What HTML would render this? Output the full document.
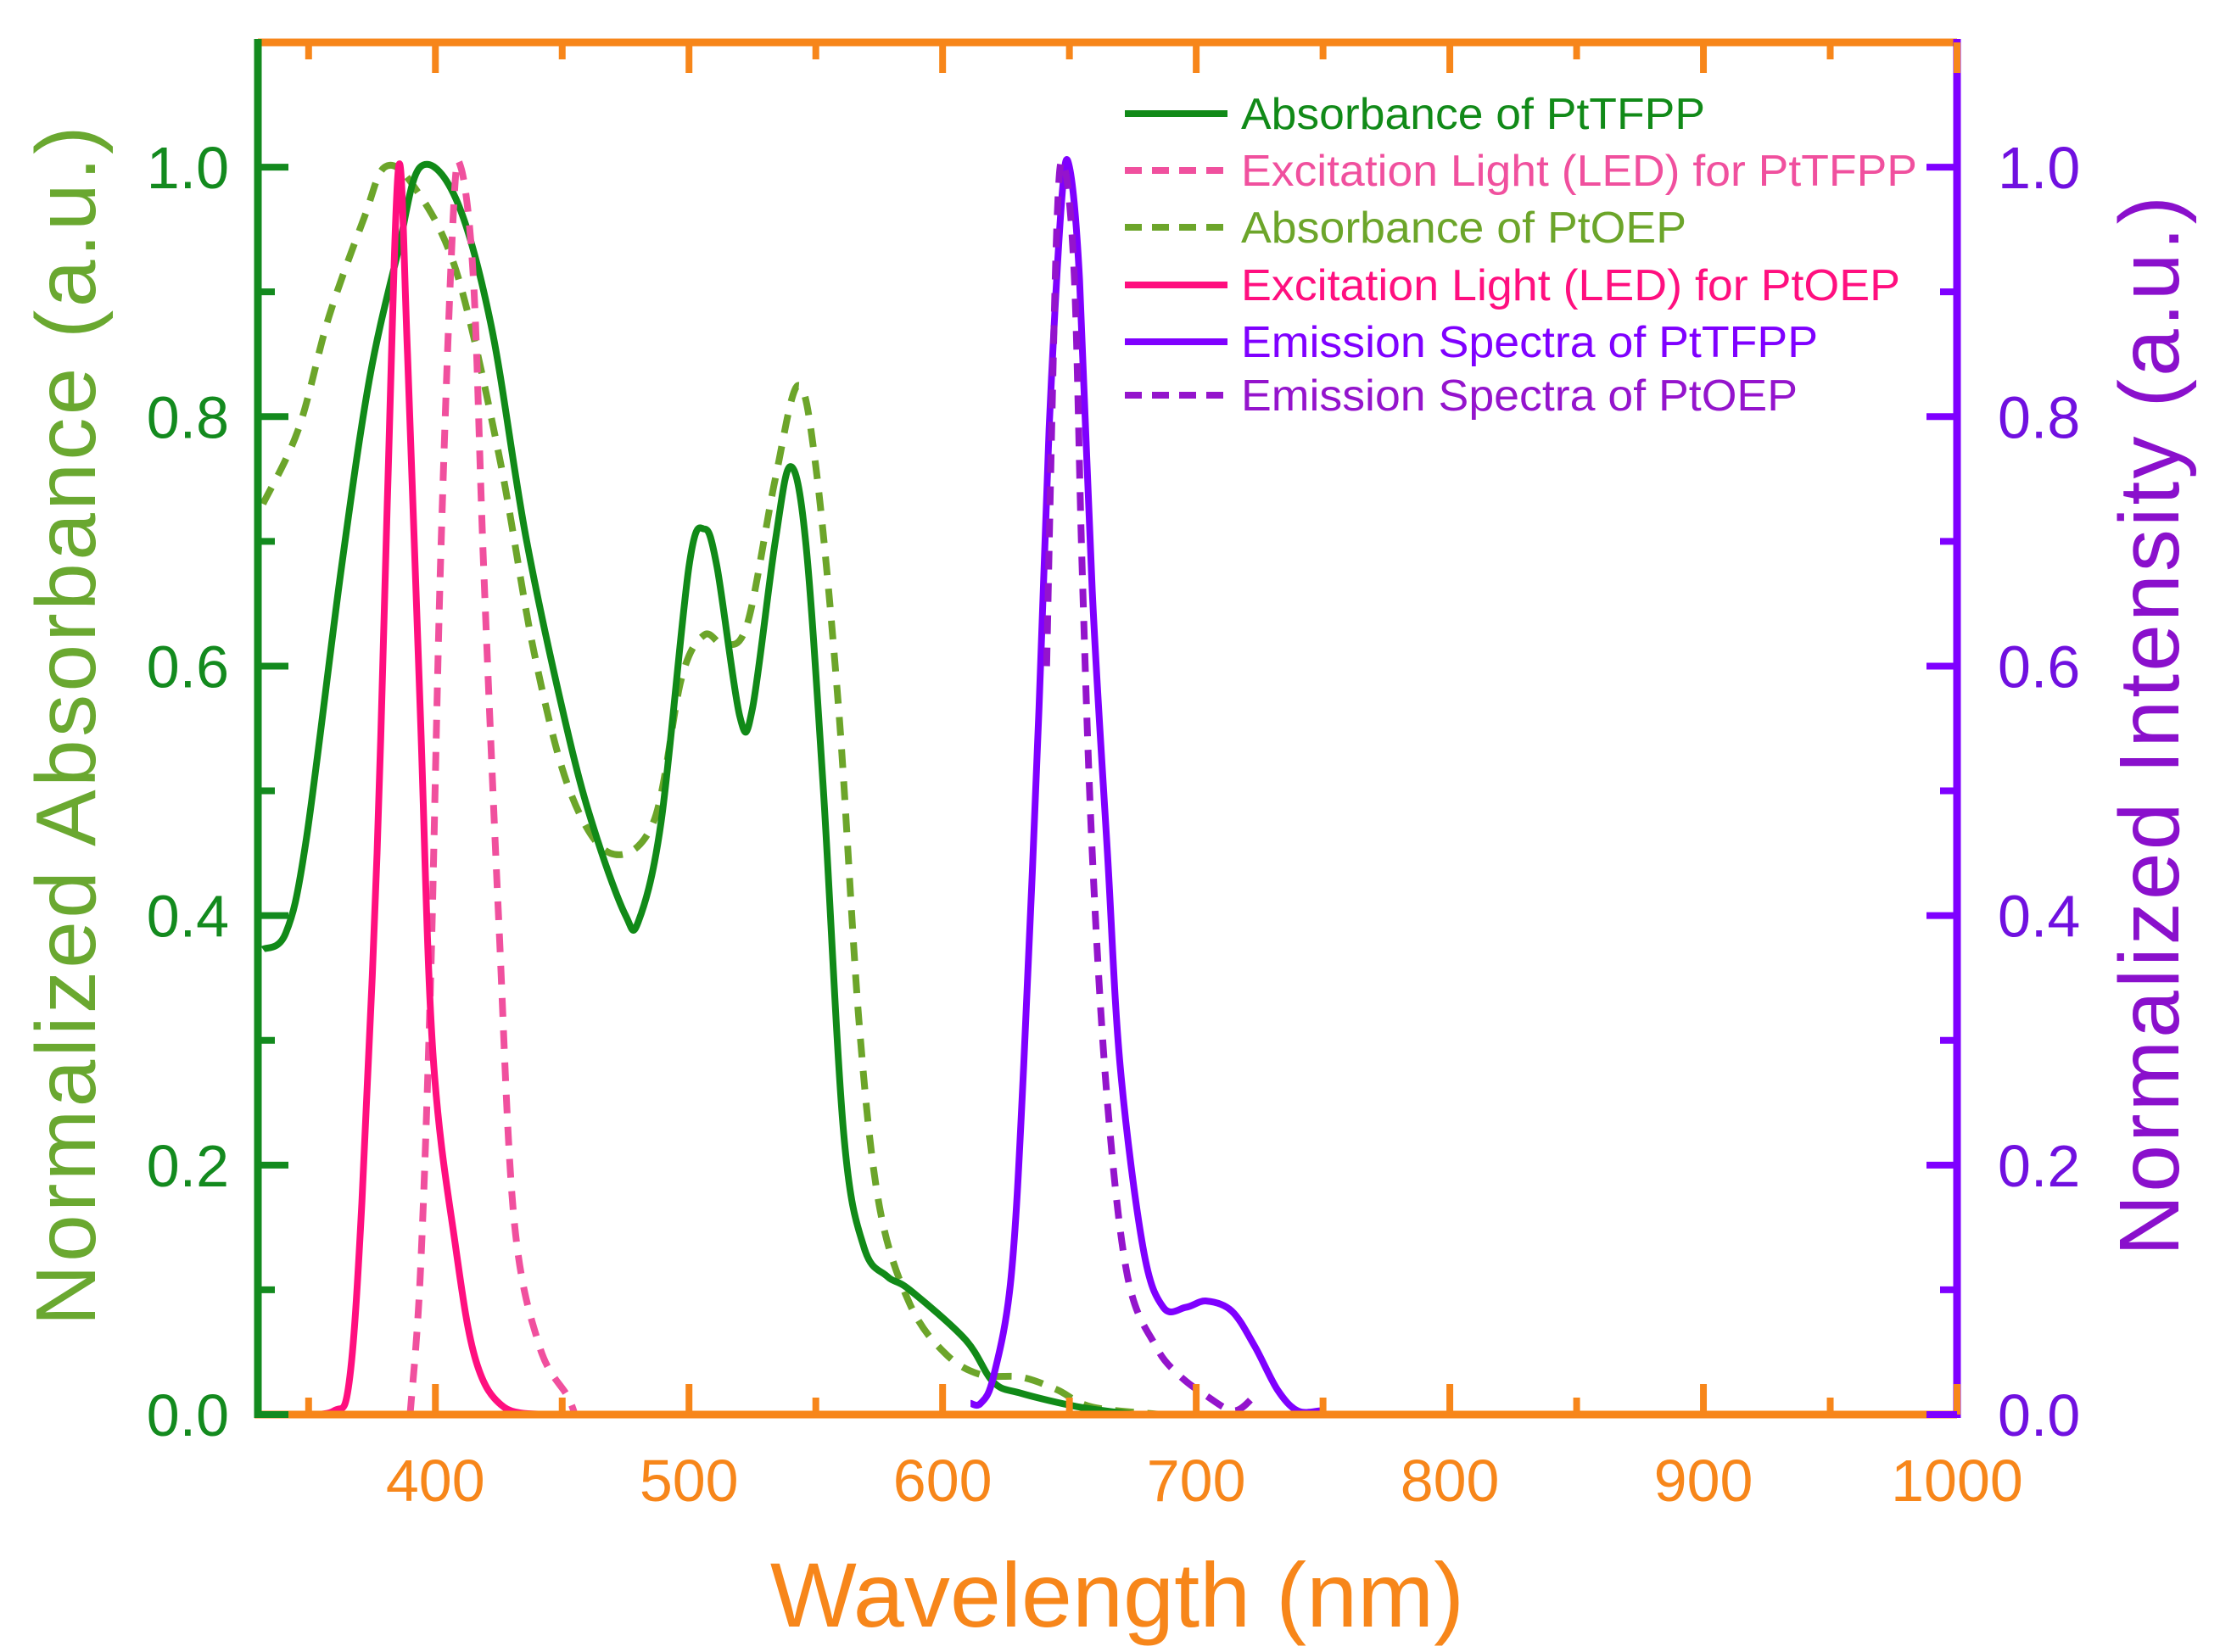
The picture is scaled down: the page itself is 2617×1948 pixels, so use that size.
<!DOCTYPE html>
<html><head><meta charset="utf-8"><style>
html,body{margin:0;padding:0;background:#fff;}
svg{display:block;font-family:"Liberation Sans",Arial,sans-serif;}
</style></head><body>
<svg id="chart" width="2617" height="1948" viewBox="0 0 2617 1948" xmlns="http://www.w3.org/2000/svg">
<g id="plot"></g>
<g id="axes"></g>
<text x="1317" y="1918" text-anchor="middle" font-size="108" fill="#f7861a">Wavelength (nm)</text>
<text transform="translate(112,856) rotate(-90)" text-anchor="middle" font-size="100" textLength="1415" fill="#6aa830">Normalized Absorbance (a.u.)</text>
<text transform="translate(2568,856) rotate(-90)" text-anchor="middle" font-size="100" textLength="1250" fill="#8a10cc">Normalized Intensity (a.u.)</text>
<g id="legend"></g>
</svg>
<script>
const xTicks=[400,500,600,700,800,900,1000];
const yTicks=[0,0.2,0.4,0.6,0.8,1.0];
const yTickLabels=["0.0","0.2","0.4","0.6","0.8","1.0"];
const absTFPPx=[332,341,349,363,374,385,394,408,422,436,453,464,475,480,489,500,506,511,520,525,534,540,546,553,561,569,578,587,609,620,631,654,676];
const absTFPPy=[0.373,0.386,0.46,0.68,0.83,0.93,1.0,0.975,0.873,0.70,0.54,0.46,0.40,0.395,0.475,0.68,0.71,0.68,0.56,0.566,0.70,0.76,0.70,0.50,0.225,0.134,0.111,0.10,0.06,0.026,0.017,0.006,0];
const absOEPx=[332,346,358,372,380,391,408,425,439,453,469,486,497,506,514,523,534,543,550,559,567,575,587,601,615,631,645,659,687];
const absOEPy=[0.73,0.79,0.88,0.96,1.0,0.986,0.918,0.77,0.61,0.50,0.45,0.475,0.59,0.625,0.617,0.634,0.75,0.825,0.76,0.566,0.316,0.168,0.089,0.049,0.032,0.03,0.02,0.006,0];
const ledOEPx=[346,360,366,371,377,381,385.5,389,394,399,408,416,427,444];
const ledOEPy=[0,0.003,0.026,0.17,0.45,0.73,1.0,0.85,0.566,0.29,0.134,0.043,0.006,0];
const ledTFPPx=[390,394,398,402,407,410,415,419,425,431,441,452,455];
const ledTFPPy=[0,0.11,0.34,0.68,0.96,1.0,0.91,0.68,0.395,0.157,0.055,0.015,0];
const emTFPPx=[611,615,620,627,632,638,642,647,650,654,659,665,670,679,687,696,704,714,723,732,740,749];
const emTFPPy=[0.009,0.009,0.03,0.11,0.28,0.566,0.79,0.975,1.0,0.91,0.66,0.45,0.28,0.134,0.086,0.086,0.091,0.083,0.055,0.02,0.003,0.003];
const emOEPx=[641,645,648,652,655,659,665,673,684,693,704,715,723];
const emOEPy=[0.6,0.95,1.0,0.91,0.68,0.45,0.25,0.11,0.055,0.032,0.015,0.003,0.015];
const legendLabels=["Absorbance of PtTFPP","Excitation Light (LED) for PtTFPP","Absorbance of PtOEP","Excitation Light (LED) for PtOEP","Emission Spectra of PtTFPP","Emission Spectra of PtOEP"];

const NS="http://www.w3.org/2000/svg";
const L=304,R=2307,T=50,B=1668,XMIN=330,XMAX=1000,YMAX=1.1;
const sx=v=>L+(v-XMIN)/(XMAX-XMIN)*(R-L);
const sy=v=>B-v/YMAX*(B-T);
function mk(tag,attrs,parent){const e=document.createElementNS(NS,tag);for(const k in attrs)e.setAttribute(k,attrs[k]);parent.appendChild(e);return e;}
function smooth(pts){let d='M'+pts[0][0].toFixed(1)+','+pts[0][1].toFixed(1);
 for(let i=0;i<pts.length-1;i++){const p0=pts[Math.max(0,i-1)],p1=pts[i],p2=pts[i+1],p3=pts[Math.min(pts.length-1,i+2)];
  const c1=[p1[0]+(p2[0]-p0[0])/6,p1[1]+(p2[1]-p0[1])/6],c2=[p2[0]-(p3[0]-p1[0])/6,p2[1]-(p3[1]-p1[1])/6];
  d+=' C'+c1[0].toFixed(1)+','+c1[1].toFixed(1)+' '+c2[0].toFixed(1)+','+c2[1].toFixed(1)+' '+p2[0].toFixed(1)+','+p2[1].toFixed(1);}
 return d;}
const plot=document.getElementById('plot'),axes=document.getElementById('axes'),legend=document.getElementById('legend');
const series=[
 {n:'absorbance-pttfpp-line',x:absTFPPx,y:absTFPPy,c:'#118a18',d:''},
 {n:'excitation-led-pttfpp-line',x:ledTFPPx,y:ledTFPPy,c:'#f0509e',d:'22 16'},
 {n:'absorbance-ptoep-line',x:absOEPx,y:absOEPy,c:'#6ca52a',d:'22 16'},
 {n:'excitation-led-ptoep-line',x:ledOEPx,y:ledOEPy,c:'#ff0f7f',d:''},
 {n:'emission-pttfpp-line',x:emTFPPx,y:emTFPPy,c:'#7f00ff',d:''},
 {n:'emission-ptoep-line',x:emOEPx,y:emOEPy,c:'#9414cc',d:'22 16'}];
const order=[2,0,1,3,4,5];
order.forEach(i=>{const s=series[i];
 const pts=s.x.map((v,j)=>[sx(v),sy(s.y[j])]);
 const p=mk('path',{d:smooth(pts),fill:'none',stroke:s.c,'stroke-width':8,'stroke-linejoin':'round','stroke-dasharray':s.d||'none'},plot);
 
 
});
const ab=mk('line',{x1:L-4,y1:B,x2:R,y2:B,stroke:'#f7861a','stroke-width':9},axes);


const at=mk('line',{x1:L,y1:T,x2:R,y2:T,stroke:'#f7861a','stroke-width':9},axes);


const al=mk('line',{x1:L,y1:T-4,x2:L,y2:B+4,stroke:'#138a1e','stroke-width':9},axes);


const ar=mk('line',{x1:R,y1:T-4,x2:R,y2:B+4,stroke:'#7f00ff','stroke-width':9},axes);


for(let v=350;v<=1000;v+=50){const maj=v%100===0;const len=maj?36:20;const X=sx(v);
 mk('line',{x1:X,y1:B,x2:X,y2:B-len,stroke:'#f7861a','stroke-width':8},axes);
 mk('line',{x1:X,y1:T,x2:X,y2:T+len,stroke:'#f7861a','stroke-width':8},axes);}
xTicks.forEach(v=>{const t=mk('text',{x:sx(v),y:1770,'text-anchor':'middle','font-size':70,fill:'#f7861a'},axes);t.textContent=v;
 
 });
for(let k=0;k<=10;k++){const v=k/10;const maj=k%2===0;const len=maj?36:20;const Y=sy(v);
 mk('line',{x1:L,y1:Y,x2:L+len,y2:Y,stroke:'#138a1e','stroke-width':8},axes);
 mk('line',{x1:R,y1:Y,x2:R-len,y2:Y,stroke:'#7f00ff','stroke-width':8},axes);}
yTicks.forEach((v,i)=>{
 const a=mk('text',{x:270,y:sy(v)+25,'text-anchor':'end','font-size':70,fill:'#138a1e'},axes);a.textContent=yTickLabels[i];
 
 
 const b=mk('text',{x:2355,y:sy(v)+25,'text-anchor':'start','font-size':70,fill:'#7010e0'},axes);b.textContent=yTickLabels[i];
 
 });
const ly=[134,201,268,336,403,466];
const lw=[547,797,525,777,680,656];
legendLabels.forEach((lab,i)=>{const s=series[i];
 const g=mk('g',{},legend);
 
 
 mk('line',{x1:1326,y1:ly[i],x2:1447,y2:ly[i],stroke:s.c,'stroke-width':8,'stroke-dasharray':s.d?'20 12':'none'},g);
 const t=mk('text',{x:1463,y:ly[i]+18,'font-size':52,fill:s.c,textLength:lw[i],lengthAdjust:'spacingAndGlyphs'},g);t.textContent=lab;});
</script>
</body></html>
